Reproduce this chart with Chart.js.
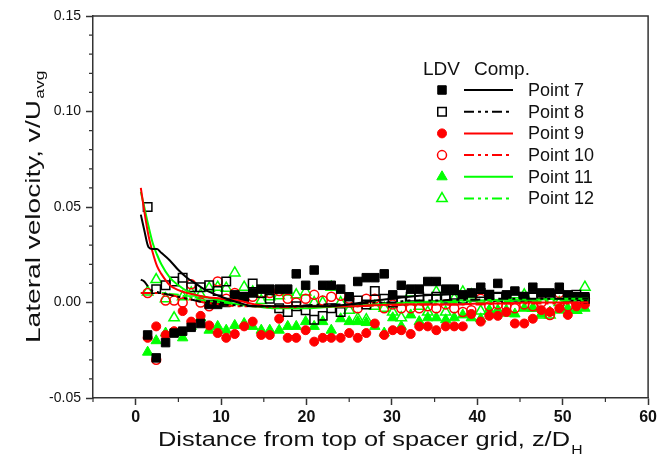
<!DOCTYPE html>
<html>
<head>
<meta charset="utf-8">
<script src="https://cdn.jsdelivr.net/npm/chart.js@4.4.0/dist/chart.umd.min.js"></script>
<style>body{margin:0;background:#fff}</style>
</head>
<body>
<canvas id="c" width="660" height="455"></canvas>
<script>
// LDV measurement positions, z/DH
const zLdv = [1.4,2.4,3.5,4.5,5.5,6.5,7.6,8.6,9.6,10.6,11.6,12.7,13.7,14.7,15.7,16.8,17.8,18.8,19.9,20.9,
  21.9,22.9,24.0,25.0,26.0,27.0,28.0,29.1,30.1,31.1,32.2,33.2,34.2,35.2,36.3,37.3,38.3,39.3,40.4,41.4,
  42.4,43.4,44.4,45.5,46.5,47.5,48.5,49.6,50.6,51.6,52.6]

// LDV values
const ldv7 = [-0.017,-0.029,-0.021,-0.016,-0.015,-0.013,-0.011,-0.001,-0.001,0.000,0.004,0.003,0.005,0.007,0.007,0.007,0.007,0.015,0.009,0.017,
  0.009,0.009,0.007,0.003,0.011,0.013,0.013,0.015,0.004,0.009,0.007,0.007,0.011,0.011,0.007,0.007,0.004,0.005,0.008,0.004,
  0.010,0.004,0.006,0.003,0.008,0.005,0.005,0.008,0.004,0.003,0.003]
const ldv8 = [0.050,0.007,0.009,0.011,0.013,0.008,0.008,0.009,0.006,0.011,0.003,0.003,0.010,0.005,0.002,-0.003,-0.005,-0.002,-0.004,-0.009,
  -0.007,-0.003,-0.005,0.000,0.001,-0.001,0.006,0.002,0.000,0.001,0.003,0.003,0.002,0.003,0.002,0.004,0.002,0.003,0.005,0.004,
  0.003,0.002,0.003,0.003,0.003,0.004,0.004,0.004,0.003,0.004,0.002]
const ldv9 = [-0.0185,-0.0125,-0.017,-0.015,-0.0045,-0.010,-0.007,-0.012,-0.016,-0.0185,-0.0165,-0.0125,-0.010,-0.017,-0.017,-0.0085,-0.0185,-0.0185,-0.0145,-0.0205,
  -0.0185,-0.0185,-0.0185,-0.016,-0.0185,-0.016,-0.011,-0.017,-0.0145,-0.0145,-0.0165,-0.0125,-0.0125,-0.0145,-0.0125,-0.0125,-0.0125,-0.006,-0.010,-0.007,
  -0.007,-0.005,-0.011,-0.011,-0.0085,-0.004,-0.005,-0.003,-0.0065,-0.002,-0.001]
const ldv10 = [0.005,-0.030,0.001,0.001,0.000,0.0095,0.000,-0.002,0.011,0.002,0.005,0.001,0.003,0.005,0.005,0.006,0.002,0.000,0.002,0.004,
  0.001,0.003,0.0035,0.002,-0.003,0.002,0.002,-0.003,-0.001,-0.003,-0.003,-0.003,-0.002,-0.003,-0.001,-0.003,-0.005,-0.004,0.002,-0.002,
  -0.001,-0.002,-0.003,-0.001,-0.002,0.000,-0.0065,0.005,-0.002,0.000,0.002]
const ldv11 = [-0.026,-0.020,-0.016,-0.016,-0.0185,-0.0125,-0.008,-0.0145,-0.0125,-0.0145,-0.012,-0.011,-0.0125,-0.0145,-0.0145,-0.0145,-0.0125,-0.0125,-0.010,-0.0125,
  -0.010,-0.0145,-0.0085,-0.010,-0.010,-0.0105,-0.0125,-0.016,-0.008,-0.0125,-0.0065,-0.010,-0.008,-0.008,-0.009,-0.008,-0.0065,-0.008,-0.0085,-0.004,
  -0.004,-0.004,-0.006,-0.003,-0.003,-0.006,-0.005,-0.004,-0.003,-0.004,-0.003]
const ldv12 = [0.0055,0.012,0.002,-0.008,0.003,0.005,0.004,0.0075,0.008,0.0075,0.0155,0.008,0.0055,0.001,0.003,0.0035,0.0055,0.004,0.0055,0.000,
  0.000,0.008,0.000,-0.004,-0.0085,-0.009,-0.002,-0.003,-0.005,-0.008,0.005,-0.002,-0.005,0.0055,-0.005,0.002,0.0055,0.004,-0.0045,-0.0045,
  -0.0045,-0.0055,0.004,0.004,-0.003,-0.0065,-0.0065,0.000,0.002,-0.004,0.008]

// computed curves
const zComp = [0.6,1,1.5,2,2.5,3,4,5,6,7,8,10,12,14,16,18,20,22,25,28,30,32,35,38,40,43,46,50,53]
const comp7 = [0.046,0.038,0.029,0.028,0.028,0.026,0.022,0.017,0.013,0.010,0.007,0.003,0.000,-0.002,-0.002,-0.002,-0.002,-0.002,-0.001,0.001,0.002,0.003,0.004,0.0045,0.005,0.005,0.005,0.005,0.005]
const comp8 = [0.012,0.011,0.008,0.006,0.0055,0.005,0.004,0.003,0.002,0.001,0.000,-0.001,-0.0015,-0.002,-0.002,-0.002,-0.0015,-0.001,-0.001,0.000,0.000,0.001,0.001,0.0015,0.0015,0.002,0.002,0.002,0.002]
const comp9 = [0.060,0.048,0.035,0.026,0.019,0.015,0.009,0.0065,0.005,0.004,0.003,0.002,0.001,-0.001,-0.002,-0.002,-0.002,-0.002,-0.002,-0.0015,-0.001,-0.001,-0.001,-0.001,-0.0005,-0.0005,0.000,0.000,0.000]
const comp10 = [0.005,0.005,0.005,0.005,0.005,0.0045,0.004,0.003,0.002,0.001,0.000,-0.001,-0.002,-0.002,-0.0025,-0.0025,-0.002,-0.002,-0.002,-0.0015,-0.0015,-0.001,-0.001,-0.001,-0.001,-0.0005,-0.0005,-0.0005,-0.0005]
const comp11 = [0.058,0.050,0.040,0.031,0.025,0.020,0.013,0.009,0.006,0.004,0.003,0.001,-0.001,-0.002,-0.003,-0.003,-0.003,-0.0025,-0.002,-0.001,-0.0005,0.000,0.0005,0.001,0.001,0.0015,0.0015,0.002,0.002]
const comp12 = [0.005,0.005,0.005,0.005,0.005,0.005,0.0045,0.004,0.003,0.002,0.001,0.000,-0.001,-0.002,-0.002,-0.0025,-0.0025,-0.002,-0.002,-0.0015,-0.001,-0.001,-0.0005,0.000,0.000,0.0005,0.0005,0.001,0.001]

const pointNames = ['Point 7','Point 8','Point 9','Point 10','Point 11','Point 12']
const xTickVals = [0,10,20,30,40,50,60]
const xMinorVals = [-5,5,15,25,35,45,55]
const yTickVals = [-0.05,0,0.05,0.10,0.15]
const yMinorVals = [-0.04,-0.03,-0.02,-0.01,0.01,0.02,0.03,0.04,0.06,0.07,0.08,0.09,0.11,0.12,0.13,0.14]

const FONT = "'Liberation Sans', Arial, sans-serif"
const BLACK = '#000', RED = '#ff0000', GREEN = '#00ff00'
const DDOT = [10,4,3,4,3,4]
const pts = (xs, ys) => xs.map((x, i) => ({x: x, y: ys[i]}))

const ldvSet = (vals, color, style, open, r) => ({
  data: pts(zLdv, vals), showLine: false, pointStyle: style, pointRadius: r, pointHoverRadius: r,
  backgroundColor: open ? 'rgba(0,0,0,0)' : color, borderColor: color, pointBorderWidth: open ? 1.5 : 1, order: 2
})
const compSet = (vals, color, dash) => ({
  data: pts(zComp, vals), showLine: true, pointRadius: 0, borderColor: color, borderWidth: 2,
  borderDash: dash, cubicInterpolationMode: 'monotone', fill: false, order: 1
})

const ldv = [
  ldvSet(ldv7, BLACK, 'rect', false, 6),
  ldvSet(ldv8, BLACK, 'rect', true, 6),
  ldvSet(ldv9, RED, 'circle', false, 4.5),
  ldvSet(ldv10, RED, 'circle', true, 4.5),
  ldvSet(ldv11, GREEN, 'triangle', false, 6),
  ldvSet(ldv12, GREEN, 'triangle', true, 6)
]
const comp = [
  compSet(comp7, BLACK, []),
  compSet(comp8, BLACK, DDOT),
  compSet(comp9, RED, []),
  compSet(comp10, RED, DDOT),
  compSet(comp11, GREEN, []),
  compSet(comp12, GREEN, DDOT)
]

const extras = {
  id: 'extras',
  afterDraw(chart) {
    const ctx = chart.ctx, a = chart.chartArea
    const xs = chart.scales.x, ys = chart.scales.y
    ctx.save()
    // frame top/right
    ctx.strokeStyle = '#333'; ctx.lineWidth = 1.5
    ctx.beginPath()
    ctx.moveTo(a.left, a.top); ctx.lineTo(a.right, a.top); ctx.lineTo(a.right, a.bottom)
    ctx.stroke()
    // minor ticks
    ctx.lineWidth = 1.2
    ctx.beginPath()
    xMinorVals.forEach(v => { const p = xs.getPixelForValue(v); ctx.moveTo(p, a.bottom); ctx.lineTo(p, a.bottom + 4) })
    yMinorVals.forEach(v => { const p = ys.getPixelForValue(v); ctx.moveTo(a.left - 4, p); ctx.lineTo(a.left, p) })
    ctx.stroke()

    // axis titles (stretched like the original export)
    ctx.fillStyle = '#111'
    ctx.textBaseline = 'alphabetic'
    const xt = 'Distance from top of spacer grid, z/D'
    ctx.font = '21px ' + FONT
    let w = ctx.measureText(xt).width
    let sx = 412 / w
    ctx.save()
    ctx.translate(158, 446); ctx.scale(sx, 1)
    ctx.fillText(xt, 0, 0)
    ctx.font = '13px ' + FONT
    ctx.fillText('H', w + 1, 8)
    ctx.restore()

    const yt = 'Lateral velocity, v/U'
    ctx.font = '21px ' + FONT
    w = ctx.measureText(yt).width
    sx = 243 / w
    ctx.save()
    ctx.translate(40, 343); ctx.rotate(-Math.PI / 2); ctx.scale(sx, 1)
    ctx.fillText(yt, 0, 0)
    ctx.font = '13px ' + FONT
    ctx.fillText('avg', w + 1, 4)
    ctx.restore()

    // legend
    ctx.font = '19px ' + FONT
    ctx.textBaseline = 'middle'
    ctx.fillText('LDV', 423, 70)
    ctx.fillText('Comp.', 474, 70)
    ctx.font = '18px ' + FONT
    pointNames.forEach((name, i) => {
      const y = 90 + i * 21.7
      const d = ldv[i]
      ctx.fillStyle = d.backgroundColor; ctx.strokeStyle = d.borderColor
      ctx.lineWidth = d.pointBorderWidth
      ctx.setLineDash([])
      Chart.helpers.drawPoint(ctx, {pointStyle: d.pointStyle, radius: d.pointRadius, rotation: 0, borderWidth: d.pointBorderWidth}, 442, y)
      const c = comp[i]
      ctx.strokeStyle = c.borderColor; ctx.lineWidth = 2
      ctx.setLineDash(c.borderDash)
      ctx.beginPath(); ctx.moveTo(464, y); ctx.lineTo(513, y); ctx.stroke()
      ctx.setLineDash([])
      ctx.fillStyle = '#111'
      ctx.fillText(name, 528, y + 1)
    })
    ctx.restore()
  }
}

new Chart(document.getElementById('c'), {
  type: 'scatter',
  data: { datasets: comp.concat(ldv) },
  options: {
    responsive: false,
    animation: false,
    devicePixelRatio: 1,
    layout: { padding: { top: 16, right: 11, left: 0, bottom: 0 } },
    plugins: { legend: { display: false }, tooltip: { enabled: false } },
    scales: {
      x: {
        type: 'linear', min: -5, max: 60,
        afterBuildTicks: s => { s.ticks = xTickVals.map(v => ({ value: v })) },
        afterFit: s => { s.height = 57 },
        grid: { drawOnChartArea: false, tickLength: 7, tickColor: '#333', tickWidth: 1.5 },
        border: { color: '#333', width: 1.5 },
        ticks: { color: '#111', padding: 3, font: { family: FONT, size: 16, weight: 'bold' } }
      },
      y: {
        type: 'linear', min: -0.05, max: 0.15,
        afterBuildTicks: s => { s.ticks = yTickVals.map(v => ({ value: v })) },
        afterFit: s => { s.width = 93 },
        grid: { drawOnChartArea: false, tickLength: 7, tickColor: '#333', tickWidth: 1.5 },
        border: { color: '#333', width: 1.5 },
        ticks: { color: '#111', padding: 5, font: { family: FONT, size: 14 }, callback: v => v.toFixed(2) }
      }
    }
  },
  plugins: [extras]
})
</script>
</body>
</html>
